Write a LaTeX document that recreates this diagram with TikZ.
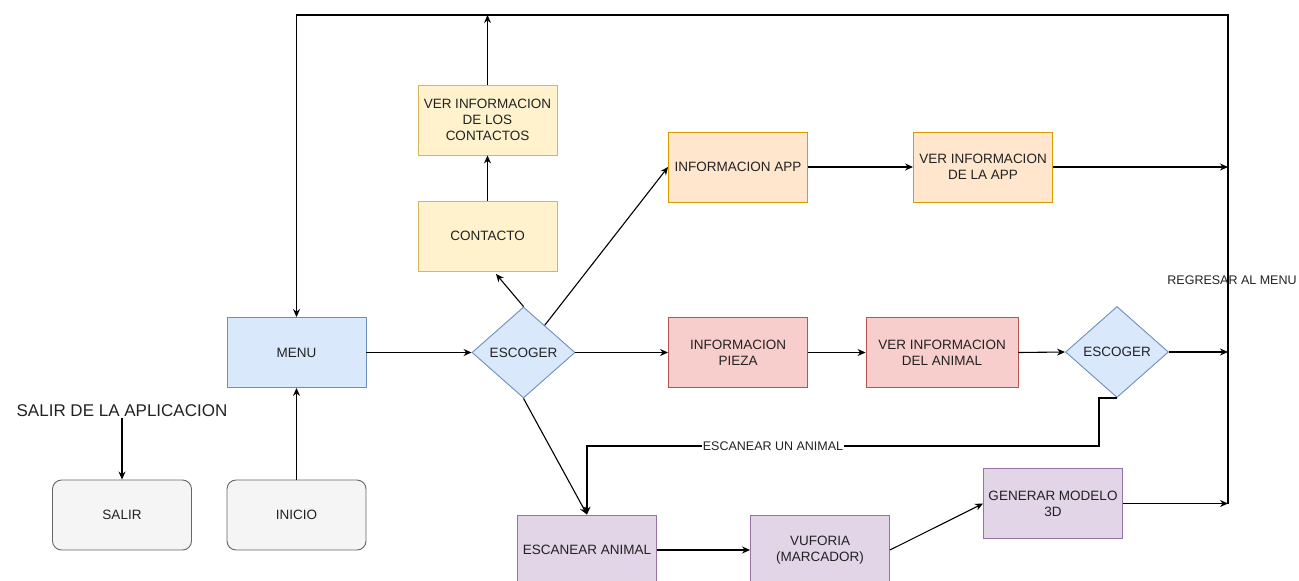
\documentclass[tikz,border=0pt]{standalone}
\usepackage{fontspec}
\setmainfont{Liberation Sans}
\usetikzlibrary{arrows.meta,shapes.geometric}

\definecolor{blueF}{HTML}{DAE8FC}\definecolor{blueD}{HTML}{6C8EBF}
\definecolor{yelF}{HTML}{FFF2CC}\definecolor{yelD}{HTML}{D6B656}
\definecolor{oraF}{HTML}{FFE6CC}\definecolor{oraD}{HTML}{D79B00}
\definecolor{redF}{HTML}{F8CECC}\definecolor{redD}{HTML}{B85450}
\definecolor{purF}{HTML}{E1D5E7}\definecolor{purD}{HTML}{9673A6}
\definecolor{greyF}{HTML}{F5F5F5}\definecolor{greyD}{HTML}{666666}
\definecolor{txt}{HTML}{222222}

\tikzset{
  box/.style={rectangle, draw, line width=0.9pt, minimum width=139pt, minimum height=70pt,
    inner sep=0pt, align=center, text=txt, font=\fontsize{13.5}{16}\selectfont},
  bluebox/.style={box, fill=blueF, draw=blueD},
  yelbox/.style={box, fill=yelF, draw=yelD},
  orabox/.style={box, fill=oraF, draw=oraD},
  redbox/.style={box, fill=redF, draw=redD},
  purbox/.style={box, fill=purF, draw=purD},
  greybox/.style={box, fill=greyF, draw=greyD, rounded corners=9pt},
  choice/.style={diamond, draw=blueD, fill=blueF, line width=0.9pt, inner sep=0pt,
    minimum width=103pt, minimum height=91pt, text=txt, font=\fontsize{13.5}{16}\selectfont},
  conn/.style={draw=black, line width=1.1pt, -{Stealth[length=8pt,width=7pt]}},
  wire/.style={draw=black, line width=1.1pt},
  lbl/.style={text=txt, inner sep=1pt, font=\fontsize{12.5}{14}\selectfont}
}

\begin{document}
\begin{tikzpicture}[x=1pt,y=-1pt]
  \useasboundingbox (0,0) rectangle (1299,581);
  \clip (0,0) rectangle (1299,581);

  % start / exit
  \node[greybox] (salir)  at (122,515)   {SALIR};
  \node[greybox] (inicio) at (296.5,515) {INICIO};
  \node[lbl, font=\fontsize{17}{19}\selectfont] (salirtxt) at (122,411) {SALIR DE LA APLICACION};

  % main menu and first choice
  \node[bluebox] (menu) at (296.5,352.5) {MENU};
  \node[choice]  (esc1) at (523.5,352.5) {ESCOGER};

  % contacts branch
  \node[yelbox] (contacto) at (487.5,236) {CONTACTO};
  \node[yelbox] (vercont)  at (487.5,120) {VER INFORMACION\\DE LOS\\CONTACTOS};

  % app information branch
  \node[orabox] (infoapp) at (738,167) {INFORMACION APP};
  \node[orabox] (verapp)  at (983,167) {VER INFORMACION\\DE LA APP};

  % piece information branch
  \node[redbox] (pieza)   at (738,352.5) {INFORMACION\\PIEZA};
  \node[redbox, minimum width=152pt] (veranimal) at (942,352.5) {VER INFORMACION\\DEL ANIMAL};
  \node[choice] (esc2) at (1117,352) {ESCOGER};

  % scanning branch
  \node[purbox] (escaneo) at (587,550)    {ESCANEAR ANIMAL};
  \node[purbox] (vuforia) at (820,550)    {VUFORIA\\(MARCADOR)};
  \node[purbox] (generar) at (1053,503.5) {GENERAR MODELO\\3D};

  % return bus
  \coordinate (r1) at (1228,167);
  \coordinate (r2) at (1228,352);
  \coordinate (r3) at (1228,503.5);
  \coordinate (tr) at (1228,15);
  \coordinate (tl) at (296.5,15);
  \coordinate (tc) at (487.5,15);
  \coordinate (ctip) at (496,274);
  \coordinate (k1) at (1099,446);

  \draw[conn] (r3) -- (tr) -- (tl) -- (menu.north);
  \node[lbl] (regresar) at (1232,280) {REGRESAR AL MENU};

  % connectors
  \draw[conn] (salirtxt.south) -- (salir.north);
  \draw[conn] (inicio.north) -- (menu.south);
  \draw[conn] (menu.east) -- (esc1.west);
  \draw[conn] (esc1.east) -- (pieza.west);
  \draw[conn] (pieza.east) -- (veranimal.west);
  \draw[conn] (veranimal.east) -- (esc2.west);
  \draw[conn] (esc2.east) -- (r2);
  \draw[conn] (esc1) -- (infoapp.west);
  \draw[conn] (infoapp.east) -- (verapp.west);
  \draw[conn] (verapp.east) -- (r1);
  \draw[conn] (esc1.north) -- (ctip);
  \draw[conn] (contacto.north) -- (vercont.south);
  \draw[conn] (vercont.north) -- (tc);
  \draw[conn] (esc1.south) -- (escaneo.north);
  \draw[conn] (esc2.south) -| (k1) -| (escaneo.north);
  \node[lbl, fill=white, inner sep=0.5pt] (scanlbl) at (773,446) {ESCANEAR UN ANIMAL};
  \draw[conn] (escaneo.east) -- (vuforia.west);
  \draw[conn] (vuforia.east) -- (generar.west);
  \draw[conn] (generar.east) -- (r3);
\end{tikzpicture}
\end{document}
